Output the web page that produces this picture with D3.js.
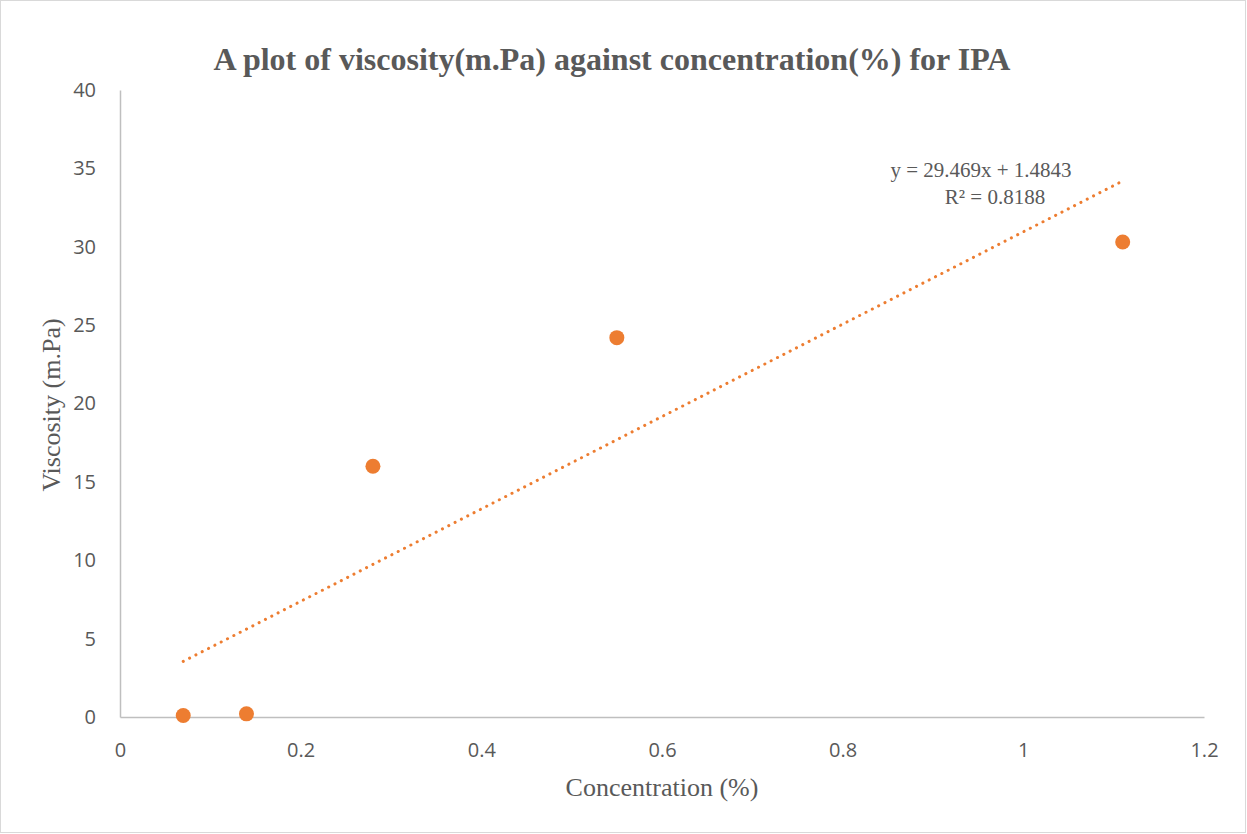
<!DOCTYPE html>
<html>
<head>
<meta charset="utf-8">
<script src="https://cdn.jsdelivr.net/npm/d3@7"></script>
<style>
  body { margin: 0; background: #fff; }
</style>
</head>
<body>
<div id="chart"></div>
<script>
const concentration = [0.07, 0.14, 0.28, 0.55, 1.11];
const viscosity = [0.1, 0.2, 16.0, 24.2, 30.3];
const xTicks = [0, 0.2, 0.4, 0.6, 0.8, 1, 1.2];
const yTicks = [0, 5, 10, 15, 20, 25, 30, 35, 40];
const slope = 29.469, intercept = 1.4843;

const W = 1247, H = 834;
const margin = {top: 90, right: 43, bottom: 117, left: 120};

const svg = d3.select("#chart")
    .append("svg")
    .attr("width", W)
    .attr("height", H);

svg.append("rect")
    .attr("x", 0.5).attr("y", 0.5)
    .attr("width", W - 2).attr("height", H - 2)
    .attr("fill", "#fff")
    .attr("stroke", "#d9d9d9");

let x = d3.scaleLinear().domain([0, 1.2]).range([margin.left, W - margin.right]);
let y = d3.scaleLinear().domain([0, 40]).range([H - margin.bottom, margin.top]);

// axes
svg.append("g")
    .attr("transform", `translate(0,${y(0)})`)
    .call(d3.axisBottom(x).tickValues(xTicks).tickSize(0).tickPadding(26).tickFormat(d3.format("")))
    .call(g => g.select(".domain").attr("stroke", "#bfbfbf").attr("stroke-width", 1.5))
    .call(g => g.selectAll("text").attr("fill", "#595959").style("font-family", "'Open Sans', sans-serif").style("font-size", "20px"));

svg.append("g")
    .attr("transform", `translate(${x(0)},0)`)
    .call(d3.axisLeft(y).tickValues(yTicks).tickSize(0).tickPadding(24))
    .call(g => g.select(".domain").attr("stroke", "#bfbfbf").attr("stroke-width", 1.5))
    .call(g => g.selectAll("text").attr("fill", "#595959").style("font-family", "'Open Sans', sans-serif").style("font-size", "20px"));

// trendline
let x0 = d3.min(concentration), x1 = d3.max(concentration);
svg.append("line")
    .attr("x1", x(x0)).attr("y1", y(slope * x0 + intercept))
    .attr("x2", x(x1)).attr("y2", y(slope * x1 + intercept))
    .attr("stroke", "#ed7d31")
    .attr("stroke-width", 3)
    .attr("stroke-linecap", "round")
    .attr("stroke-dasharray", "0.1 7");

// points
svg.selectAll("circle.pt")
    .data(concentration)
    .enter().append("circle")
    .attr("class", "pt")
    .attr("cx", d => x(d))
    .attr("cy", (d, i) => y(viscosity[i]))
    .attr("r", 7.5)
    .attr("fill", "#ed7d31");

// equation label
svg.append("text")
    .attr("x", 981).attr("y", 177)
    .attr("text-anchor", "middle")
    .attr("fill", "#595959")
    .style("font-family", "'Liberation Serif', serif")
    .style("font-size", "21px")
    .text("y = 29.469x + 1.4843");
svg.append("text")
    .attr("x", 995).attr("y", 204)
    .attr("text-anchor", "middle")
    .attr("fill", "#595959")
    .style("font-family", "'Liberation Serif', serif")
    .style("font-size", "21px")
    .text("R² = 0.8188");

// title
svg.append("text")
    .attr("x", 612).attr("y", 70)
    .attr("text-anchor", "middle")
    .attr("fill", "#595959")
    .style("font-family", "'Liberation Serif', serif")
    .style("font-weight", "bold")
    .style("font-size", "32px")
    .text("A plot of viscosity(m.Pa) against concentration(%) for IPA");

// axis titles
svg.append("text")
    .attr("x", 662).attr("y", 796)
    .attr("text-anchor", "middle")
    .attr("fill", "#595959")
    .style("font-family", "'Liberation Serif', serif")
    .style("font-size", "26px")
    .text("Concentration (%)");
svg.append("text")
    .attr("transform", "translate(60,405) rotate(-90)")
    .attr("text-anchor", "middle")
    .attr("fill", "#595959")
    .style("font-family", "'Liberation Serif', serif")
    .style("font-size", "26px")
    .text("Viscosity (m.Pa)");
</script>
</body>
</html>
